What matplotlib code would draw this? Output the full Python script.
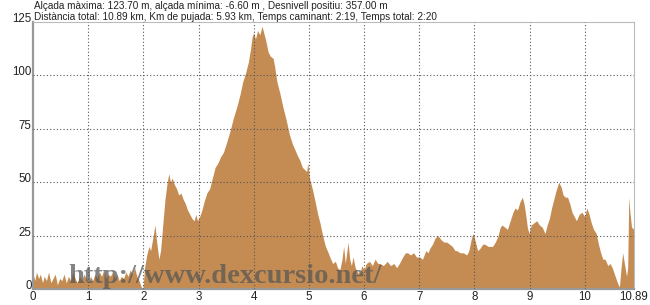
import matplotlib
matplotlib.use("Agg")
import matplotlib.pyplot as plt

FILL = "#C48C52"
GRID = "#555555"

# distància (km) i alçada (m), llegits del perfil
dist = [0.00, 0.03, 0.06, 0.10, 0.13, 0.17, 0.20, 0.24, 0.28, 0.32, 0.36, 0.40, 0.44, 0.48,
        0.52, 0.56, 0.60, 0.64, 0.68, 0.72, 0.76, 0.80, 0.84, 0.88, 0.92, 0.96, 1.00, 1.04,
        1.08, 1.12, 1.16, 1.20, 1.24, 1.28, 1.32, 1.36, 1.40, 1.44, 1.48, 1.52, 1.56, 1.60,
        1.64, 1.68, 1.72, 1.76, 1.80, 1.84, 1.88, 1.92, 1.96, 1.99,
        2.02, 2.06, 2.10, 2.13, 2.17, 2.21, 2.24, 2.28, 2.31, 2.35, 2.39, 2.43, 2.46, 2.49,
        2.52, 2.56, 2.60, 2.64, 2.68, 2.72, 2.76, 2.80, 2.84, 2.88, 2.92, 2.95, 2.98,
        3.02, 3.06, 3.10, 3.15, 3.20, 3.25, 3.30, 3.35, 3.40, 3.45, 3.50, 3.57, 3.63, 3.70,
        3.75, 3.80, 3.85, 3.90, 3.94, 3.97,
        4.00, 4.03, 4.07, 4.11, 4.15, 4.18, 4.22, 4.26, 4.30, 4.35, 4.38, 4.42, 4.47, 4.53,
        4.58, 4.65, 4.70, 4.75, 4.80, 4.84, 4.88, 4.92, 4.96, 4.98,
        5.01, 5.07, 5.12, 5.16, 5.20, 5.25, 5.30, 5.35, 5.38, 5.43, 5.48, 5.52, 5.56, 5.60,
        5.63, 5.66, 5.71, 5.74, 5.77, 5.80, 5.84, 5.88, 5.92, 5.96,
        6.00, 6.04, 6.10, 6.15, 6.20, 6.25, 6.29, 6.35, 6.42, 6.48, 6.54, 6.59, 6.64, 6.70,
        6.75, 6.79, 6.84, 6.90, 6.95,
        7.01, 7.06, 7.12, 7.16, 7.19, 7.24, 7.29, 7.34, 7.40, 7.45, 7.50, 7.55, 7.60, 7.65,
        7.68, 7.74, 7.80, 7.86, 7.90, 7.94, 7.97,
        8.00, 8.03, 8.06, 8.10, 8.15, 8.19, 8.25, 8.30, 8.33, 8.38, 8.43, 8.47, 8.50, 8.55,
        8.60, 8.65, 8.70, 8.74, 8.78, 8.83, 8.87, 8.90, 8.93, 8.96, 8.99,
        9.03, 9.08, 9.13, 9.18, 9.23, 9.28, 9.32, 9.36, 9.40, 9.44, 9.48, 9.53, 9.57, 9.61,
        9.65, 9.69, 9.73, 9.77, 9.81, 9.85, 9.90, 9.95,
        10.00, 10.04, 10.08, 10.12, 10.16, 10.21, 10.25, 10.29, 10.33, 10.37, 10.42, 10.46,
        10.50, 10.54, 10.58, 10.61, 10.63, 10.66, 10.69, 10.72, 10.76, 10.78, 10.80, 10.82,
        10.85, 10.89]
alt = [7, 4, 8, 5, 7, 3, 6, 4, 8, 3, 5, 7, 2, 5,
       4, 7, 3, 6, 4, 8, 5, 3, 6, 4, 7, 5, 3, 6,
       4, 7, 5, 8, 6, 9, 5, 7, 6, 8, 5, 7, 4, 6,
       5, 8, 6, 9, 7, 10, 6, 4, 1, 0,
       10, 16, 20, 18, 24, 30, 22, 14, 18, 30, 42, 50, 54, 50,
       52, 49, 47, 44, 45, 42, 40, 37, 35, 33, 32, 35, 32,
       34, 37, 41, 45, 47, 52, 57, 59, 62, 64, 68, 74, 80, 86,
       91, 97, 101, 106, 112, 118,
       120, 117, 121, 119, 123, 120, 116, 111, 109, 108, 104, 97, 92, 85,
       80, 72, 68, 65, 62, 60, 57, 56, 55, 59,
       52, 46, 40, 35, 31, 25, 20, 17, 15, 12, 13, 10, 9, 14,
       20, 12, 22, 14, 11, 15, 10, 8, 7, 11,
       9, 12, 13, 11, 14, 12, 12, 11, 13, 11, 12, 10, 12, 15,
       17, 17, 16, 17, 15,
       15, 14, 18, 17, 19, 21, 24, 25, 23, 22, 22, 21, 20, 18,
       18, 17, 17, 16, 18, 23, 26,
       24, 21, 18, 19, 21, 21, 20, 20, 20, 22, 25, 29, 30, 29,
       28, 32, 36, 38, 37, 41, 43, 40, 35, 29, 26,
       30, 31, 32, 30, 29, 26, 30, 33, 38, 42, 46, 50, 48, 44,
       43, 43, 40, 36, 34, 32, 35, 36,
       34, 38, 35, 31, 28, 26, 21, 17, 14, 14, 11, 12,
       10, 7, 4, 2, 1, 10, 17, 12, 6, 10, 43, 36,
       29, 28]

xticks = [0, 1, 2, 3, 4, 5, 6, 7, 8, 9, 10, 10.89]
xticklabels = ["0", "1", "2", "3", "4", "5", "6", "7", "8", "9", "10", "10.89"]
yticks = [0, 25, 50, 75, 100, 125]

header = ("Alçada màxima: 123.70 m, alçada mínima: -6.60 m , Desnivell positiu: 357.00 m\n"
          "Distància total: 10.89 km, Km de pujada: 5.93 km, Temps caminant: 2:19, Temps total: 2:20")

plt.rcParams.update({"font.family": ["Liberation Sans", "DejaVu Sans"], "font.size": 8.5})

fig = plt.figure(figsize=(6.5, 3.05), dpi=100)
ax = fig.add_axes([0.051, 0.052, 0.924, 0.876])

ax.fill_between(dist, alt, 0, color=FILL, lw=0, zorder=2)
ax.set_xlim(0, 10.89)
ax.set_ylim(0, 125)

ax.set_xticks(xticks)
ax.set_xticklabels(xticklabels)
ax.set_yticks(yticks)
ax.tick_params(length=0, pad=1, labelsize=8.3, colors="#222222")
for lbl in ax.get_yticklabels():
    lbl.set_va("baseline")

for x in xticks[1:-1]:
    ax.axvline(x, color=GRID, ls=(0, (1, 2)), lw=0.8, zorder=3)
for y in yticks[1:-1]:
    ax.axhline(y, color=GRID, ls=(0, (1, 2)), lw=0.8, zorder=3)

for s in ("left", "bottom"):
    ax.spines[s].set_color("#999999")
    ax.spines[s].set_linewidth(1.6)
for s in ("top", "right"):
    ax.spines[s].set_color("#bbbbbb")
    ax.spines[s].set_linewidth(0.8)

fig.text(0.052, 0.998, header, ha="left", va="top", fontsize=7.2, linespacing=1.22,
         color="#222222")

# marca d'aigua
ax.text(0.63, 2.8, "http://www.dexcursio.net/", fontsize=20.5, fontweight="bold",
        family="Liberation Serif", color="#555555", alpha=0.72, ha="left", va="baseline",
        zorder=5)

fig.savefig("out.png", dpi=100, facecolor="white")
